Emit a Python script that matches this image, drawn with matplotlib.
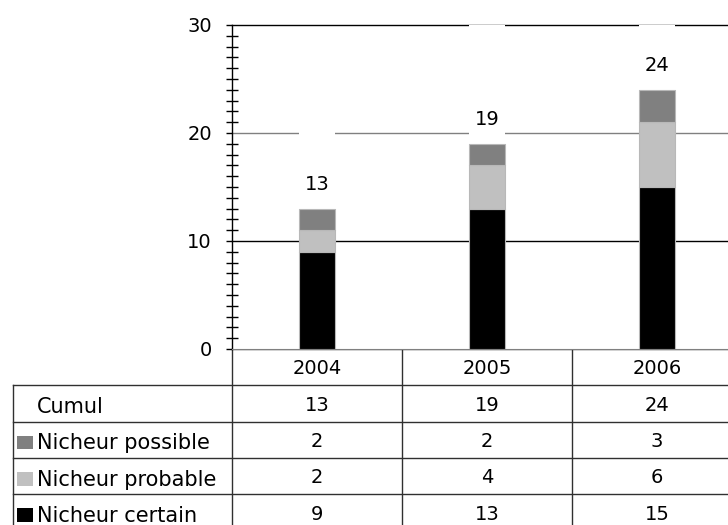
import matplotlib.pyplot as plt
import numpy as np
from matplotlib.ticker import MultipleLocator
from matplotlib.patches import Rectangle

plt.rcParams['font.family'] = 'DejaVu Sans'

# Données par année
years = ['2004', '2005', '2006']
certain = [9, 13, 15]
probable = [2, 4, 6]
possible = [2, 2, 3]
cumul = [13, 19, 24]

row_labels = ['Cumul', 'Nicheur possible', 'Nicheur probable', 'Nicheur certain']
row_values = [cumul, possible, probable, certain]
row_colors = [None, '#808080', '#c0c0c0', '#000000']

W, H = 728, 525
fig = plt.figure(figsize=(W / 100, H / 100), dpi=100)

# mise en page (en pixels)
ax_left, ax_top, ax_bottom = 232, 25, 349
col_w = 170
tab_left = 13
row_h = 36.3
fs = 14
fs_lab = 15

ax = fig.add_axes([ax_left / W, (H - ax_bottom) / H, 3 * col_w / W, (ax_bottom - ax_top) / H])
x = np.arange(len(years))
bw = 36 / col_w
edge = dict(edgecolor='#b8b8b8', linewidth=0.8, zorder=3)
ax.bar(x, certain, bw, color='#000000', **edge)
ax.bar(x, probable, bw, bottom=certain, color='#c0c0c0', **edge)
base = np.add(certain, probable)
ax.bar(x, possible, bw, bottom=base, color='#808080', **edge)
tops = base + np.array(possible)
# série "Cumul" empilée en blanc (masque le quadrillage au-dessus des barres)
ax.bar(x, cumul, bw, bottom=tops, color='white', linewidth=0, zorder=2.5)
for xi, c, t in zip(x, cumul, tops):
    ax.annotate(str(c), (xi, t), xytext=(0, 24), textcoords='offset pixels',
                ha='center', va='center', fontsize=fs, zorder=5)

for val, col in [(10, '#000000'), (20, '#808080'), (30, '#000000')]:
    ax.axhline(val, color=col, lw=1, zorder=1, clip_on=False)

ax.set_xlim(-0.5, 2.5)
ax.set_ylim(0, 30)
ax.set_yticks([0, 10, 20, 30])
ax.yaxis.set_minor_locator(MultipleLocator(1))
ax.tick_params(axis='y', which='major', direction='out', length=4.5, width=1,
               labelsize=fs, pad=10)
ax.tick_params(axis='y', which='minor', direction='inout', length=8, width=1)
ax.set_xticks([])
for s in ['top', 'right']:
    ax.spines[s].set_visible(False)
ax.spines['bottom'].set_color('#808080')
ax.spines['left'].set_linewidth(1)

# tableau de données sous le graphique (coordonnées en pixels)
tab = fig.add_axes([0, 0, 1, 1], zorder=-1)
tab.set_xlim(0, W)
tab.set_ylim(H, 0)
tab.axis('off')

lc = dict(color='#303030', lw=1)
n_rows = len(row_labels) + 1
right = ax_left + len(years) * col_w
ys = [ax_bottom + i * row_h for i in range(n_rows + 1)]
tab.plot([ax_left, right], [ys[0], ys[0]], **lc)
for yy in ys[1:]:
    tab.plot([tab_left, right], [yy, yy], **lc)
for i in range(len(years) + 1):
    xx = ax_left + i * col_w
    tab.plot([xx, xx], [ys[0], ys[-1]], **lc)
tab.plot([tab_left, tab_left], [ys[1], ys[-1]], **lc)

for i, yr in enumerate(years):
    tab.text(ax_left + (i + 0.5) * col_w, (ys[0] + ys[1]) / 2 + 7.2, yr,
             ha='center', va='baseline', fontsize=fs)

for r, (lab, vals, col) in enumerate(zip(row_labels, row_values, row_colors)):
    yc = (ys[r + 1] + ys[r + 2]) / 2
    if col is not None:
        tab.add_patch(Rectangle((17, yc - 4), 16, 13.5, color=col, lw=0))
    tab.text(37, yc + 9.5, lab, ha='left', va='baseline', fontsize=fs_lab)
    for i, v in enumerate(vals):
        tab.text(ax_left + (i + 0.5) * col_w, yc + 7.2, str(v),
                 ha='center', va='baseline', fontsize=fs)

fig.savefig('out.png', dpi=100)
